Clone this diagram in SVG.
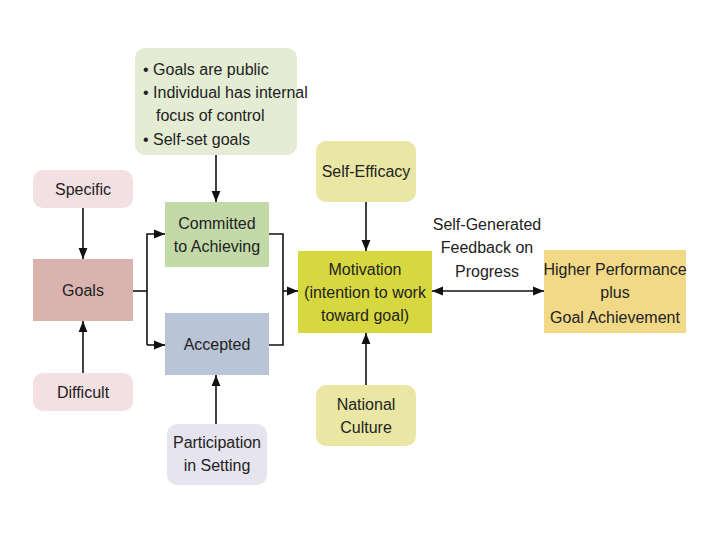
<svg xmlns="http://www.w3.org/2000/svg" width="720" height="540" viewBox="0 0 720 540">
<defs>
<marker id="a" viewBox="0 0 10 10" refX="10" refY="5" markerWidth="7" markerHeight="7" orient="auto-start-reverse"><path d="M0,1 L10,5 L0,9 Z" fill="#111"/></marker>
<style>
text{font-family:"Liberation Sans",Arial,sans-serif;font-size:16px;fill:#222;text-anchor:middle}
.l{text-anchor:start}
.c{stroke:#111;stroke-width:1.6;fill:none}
</style>
</defs>
<rect width="720" height="540" fill="#fff"/>
<g id="conds">
<g id="nodeTop"><rect x="135" y="48" width="162" height="107" rx="10" fill="#e4ecd4"/>
<text class="l" x="143" y="75">• Goals are public</text>
<text class="l" x="143" y="98">• Individual has internal</text>
<text class="l" x="156" y="121">focus of control</text>
<text class="l" x="143" y="145">• Self-set goals</text></g>
</g>
<g id="specific"><rect x="33" y="170" width="100" height="38" rx="10" fill="#f2e0e3"/><text x="83" y="195">Specific</text></g>
<g id="goals"><rect x="33" y="259" width="100" height="62" fill="#d9b3ae"/><text x="83" y="296">Goals</text></g>
<g id="difficult"><rect x="33" y="373" width="100" height="38" rx="10" fill="#f2e0e3"/><text x="83" y="398">Difficult</text></g>
<g id="committed"><rect x="165" y="202" width="104" height="65" fill="#c3d9a8"/><text x="217" y="229">Committed</text><text x="217" y="252">to Achieving</text></g>
<g id="accepted"><rect x="165" y="313" width="104" height="62" fill="#b9c4d6"/><text x="217" y="350">Accepted</text></g>
<g id="participation"><rect x="167" y="424" width="100" height="61" rx="10" fill="#e6e4ee"/><text x="217" y="448">Participation</text><text x="217" y="471">in Setting</text></g>
<g id="selfeff"><rect x="316" y="141" width="100" height="61" rx="10" fill="#e9e7a3"/><text x="366" y="177">Self-Efficacy</text></g>
<g id="motivation"><rect x="298" y="251" width="134" height="82" fill="#d7d83f"/><text x="365" y="275">Motivation</text><text x="365" y="298">(intention to work</text><text x="365" y="321">toward goal)</text></g>
<g id="national"><rect x="316" y="385" width="100" height="61" rx="10" fill="#e9e7a3"/><text x="366" y="410">National</text><text x="366" y="433">Culture</text></g>
<g id="higher"><rect x="544" y="250" width="142" height="83" fill="#f1d987"/><text x="615" y="275">Higher Performance</text><text x="615" y="298">plus</text><text x="615" y="323">Goal Achievement</text></g>
<g id="connectors">
<path class="c" d="M83,208 V259" marker-end="url(#a)"/>
<path class="c" d="M83,373 V321" marker-end="url(#a)"/>
<path class="c" d="M133,291 H147"/>
<path class="c" d="M147,345 V234 H165" marker-end="url(#a)"/>
<path class="c" d="M147,345 H165" marker-end="url(#a)"/>
<path class="c" d="M269,234 H283 V345 H269"/>
<path class="c" d="M283,291 H298" marker-end="url(#a)"/>
<path class="c" d="M216,155 V202" marker-end="url(#a)"/>
<path class="c" d="M216,424 V375" marker-end="url(#a)"/>
<path class="c" d="M366,202 V251" marker-end="url(#a)"/>
<path class="c" d="M366,385 V333" marker-end="url(#a)"/>
<path class="c" d="M432,291 H544" marker-start="url(#a)" marker-end="url(#a)"/>
<text x="487" y="230">Self-Generated</text><text x="487" y="253">Feedback on</text><text x="487" y="277">Progress</text>
</g>
</svg>
